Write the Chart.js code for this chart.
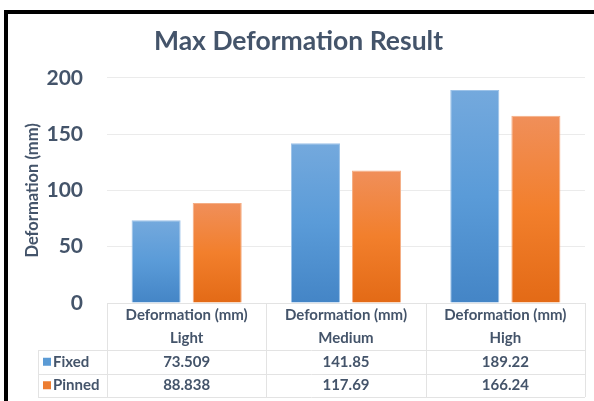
<!DOCTYPE html>
<html>
<head>
<meta charset="utf-8">
<title>Max Deformation Result</title>
<script src="https://cdn.jsdelivr.net/npm/chart.js@4"></script>
<style>
  html, body { margin: 0; padding: 0; background: #ffffff; }
  #wrap { position: relative; width: 594px; height: 401px; }
</style>
</head>
<body>
<div id="wrap"><canvas id="deformChart" width="594" height="401"></canvas></div>
<script>
// --- データ ---
const categories = ['Light', 'Medium', 'High'];
const headerLabel = 'Deformation (mm)';
const fixedValues = [73.509, 141.85, 189.22];
const pinnedValues = [88.838, 117.69, 166.24];
const fixedText = ['73.509', '141.85', '189.22'];
const pinnedText = ['88.838', '117.69', '166.24'];
const yTicks = [0, 50, 100, 150, 200];

const TEXT = '#44546A';
const FONT = 'Lato, "Open Sans", sans-serif';

// 棒ごとの縦グラデーション
function barGradient(top, mid, bottom) {
    return (ctx) => {
        const chart = ctx.chart;
        if (!chart.chartArea || ctx.raw == null) return mid;
        const y = chart.scales.y;
        const y0 = y.getPixelForValue(ctx.raw);
        const y1 = y.getPixelForValue(0);
        const g = chart.ctx.createLinearGradient(0, y0, 0, y1);
        g.addColorStop(0, top);
        g.addColorStop(0.5, mid);
        g.addColorStop(1, bottom);
        return g;
    };
}

const series = [
    { label: 'Fixed', values: fixedValues, text: fixedText, color: '#5B9BD5',
      bg: barGradient('#74A9DD', '#5A9BD8', '#4485C6'), edge: '#9CC2E8' },
    { label: 'Pinned', values: pinnedValues, text: pinnedText, color: '#ED7D31',
      bg: barGradient('#F08F5A', '#F27F2C', '#E36A16'), edge: '#F5AE85' }
];

// 外枠（上と左）
const framePlugin = {
    id: 'frame',
    afterDraw(chart) {
        const c = chart.ctx;
        c.save();
        c.fillStyle = '#000000';
        c.fillRect(4, 10, 590, 4);
        c.fillRect(4, 10, 4, 391);
        c.restore();
    }
};

// グラフ下のデータテーブル
const dataTablePlugin = {
    id: 'dataTable',
    afterDraw(chart) {
        const c = chart.ctx;
        const x = chart.scales.x;
        const area = chart.chartArea;
        const colW = (area.right - area.left) / categories.length;
        const top = area.bottom;
        const headerBottom = top + 47;
        const rowH = 23.5;
        const tableBottom = headerBottom + rowH * series.length;
        const legendLeft = 38;

        c.save();
        c.strokeStyle = '#E3E3E3';
        c.lineWidth = 1;
        c.beginPath();
        // 横線
        c.moveTo(area.left, top + 0.5); c.lineTo(area.right, top + 0.5);
        for (let r = 0; r <= series.length; r++) {
            const yy = Math.round(headerBottom + rowH * r) + 0.5;
            c.moveTo(legendLeft, yy); c.lineTo(area.right, yy);
        }
        // 縦線
        for (let i = 0; i <= categories.length; i++) {
            const xx = Math.round(area.left + colW * i) + 0.5;
            c.moveTo(xx, top); c.lineTo(xx, tableBottom);
        }
        c.moveTo(legendLeft + 0.5, headerBottom); c.lineTo(legendLeft + 0.5, tableBottom);
        c.stroke();

        c.fillStyle = TEXT;
        c.font = 'bold 15px ' + FONT;
        c.textAlign = 'center';
        c.textBaseline = 'middle';
        categories.forEach((cat, i) => {
            const cx = x.getPixelForValue(i);
            c.fillText(headerLabel, cx, top + 12);
            c.fillText(cat, cx, top + 35);
        });

        series.forEach((s, r) => {
            const cy = headerBottom + rowH * r + rowH / 2;
            c.fillStyle = s.color;
            c.fillRect(legendLeft + 5, cy - 4, 8, 8);
            c.fillStyle = TEXT;
            c.textAlign = 'left';
            c.fillText(s.label, legendLeft + 15, cy);
            c.textAlign = 'center';
            s.text.forEach((t, i) => {
                c.fillText(t, x.getPixelForValue(i), cy);
            });
        });
        c.restore();
    }
};

new Chart(document.getElementById('deformChart'), {
    type: 'bar',
    data: {
        labels: categories,
        datasets: series.map(s => ({
            label: s.label,
            data: s.values,
            backgroundColor: s.bg,
            borderColor: s.edge,
            borderWidth: 1,
            categoryPercentage: 0.767,
            barPercentage: 0.803
        }))
    },
    options: {
        responsive: false,
        animation: false,
        events: [],
        layout: { padding: { left: 12, right: 9, top: 0, bottom: 98 } },
        plugins: {
            legend: { display: false },
            tooltip: { enabled: false },
            title: {
                display: true,
                text: 'Max Deformation Result',
                color: TEXT,
                font: { family: FONT, size: 26.5, weight: 'bold' },
                padding: { top: 26, bottom: 20 }
            }
        },
        scales: {
            x: {
                display: false,
                offset: true
            },
            y: {
                min: 0,
                max: 200,
                afterFit(scale) { scale.width = 95; },
                afterBuildTicks(scale) { scale.ticks = yTicks.map(v => ({ value: v })); },
                grid: { color: '#EBEBEB', drawTicks: false },
                border: { display: false },
                ticks: {
                    padding: 24,
                    color: TEXT,
                    font: { family: FONT, size: 21, weight: 'bold' }
                },
                title: {
                    display: true,
                    text: 'Deformation (mm)',
                    color: TEXT,
                    font: { family: FONT, size: 16.5, weight: 'bold' },
                    padding: { top: 11, bottom: 0 }
                }
            }
        }
    },
    plugins: [framePlugin, dataTablePlugin]
});
</script>
</body>
</html>
